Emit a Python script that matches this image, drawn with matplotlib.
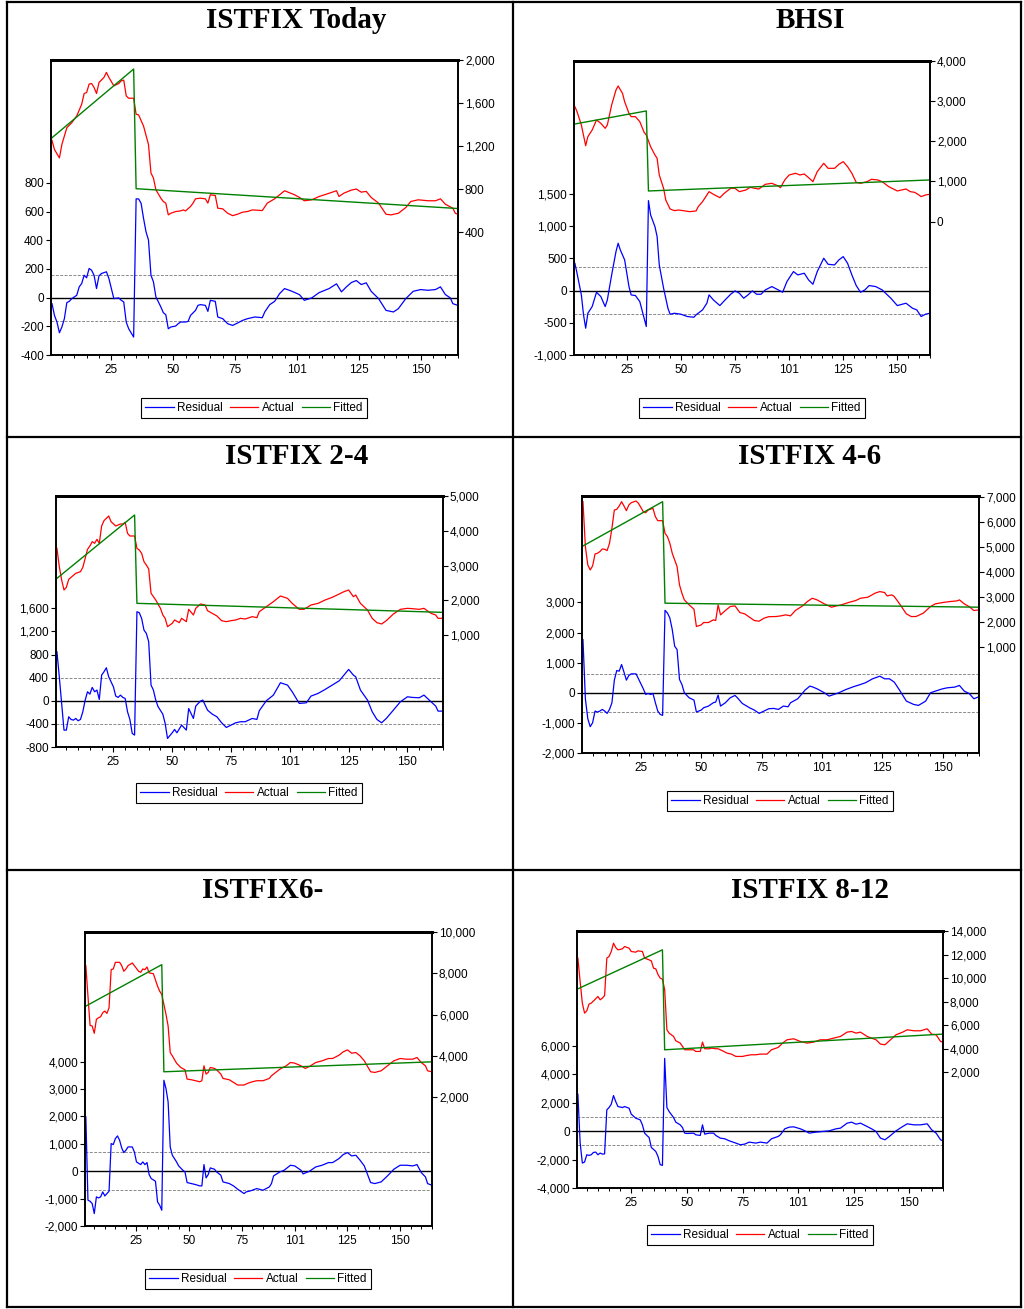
import matplotlib
matplotlib.use("Agg")
import matplotlib.pyplot as plt
from matplotlib.lines import Line2D
from matplotlib.ticker import FuncFormatter, FixedLocator

plt.rcParams["font.family"] = ["Liberation Sans", "DejaVu Sans"]

W, H = 1024, 1309

# ---------------- data (observation number, value) ----------------
# ISTFIX Today
today_act_x = [1, 2, 4, 5, 7, 9, 11, 13, 14, 15, 16, 17, 18, 19, 20, 22, 23, 24, 26, 28, 29, 30, 31, 32, 34, 35, 36, 38, 40, 41, 42, 43, 45, 46, 47, 48, 49, 51, 53, 54, 55, 57, 58, 59, 61, 63, 64, 65, 67, 68, 70, 72, 74, 76, 78, 80, 82, 86, 88, 91, 95, 99, 101, 103, 106, 109, 112, 116, 117, 119, 122, 124, 126, 128, 130, 133, 136, 138, 141, 144, 146, 149, 153, 156, 158, 160, 163, 164, 165]
today_act = [1253, 1169, 1091, 1216, 1371, 1418, 1480, 1589, 1689, 1698, 1776, 1782, 1745, 1689, 1791, 1838, 1885, 1838, 1760, 1782, 1807, 1813, 1667, 1645, 1645, 1496, 1490, 1387, 1216, 951, 904, 795, 717, 686, 671, 562, 577, 593, 599, 608, 599, 640, 671, 711, 717, 711, 671, 749, 742, 624, 618, 577, 555, 568, 587, 593, 608, 602, 671, 711, 786, 749, 724, 693, 702, 733, 755, 786, 733, 764, 792, 802, 773, 780, 724, 671, 568, 562, 577, 630, 686, 702, 693, 693, 711, 661, 624, 577, 568]
today_res_x = [1, 2, 3, 4, 5, 6, 7, 8, 9, 11, 12, 13, 14, 15, 16, 17, 18, 19, 20, 21, 23, 24, 25, 26, 28, 29, 30, 31, 32, 34, 35, 36, 37, 38, 39, 40, 41, 42, 43, 45, 46, 47, 48, 49, 51, 52, 53, 55, 56, 57, 59, 60, 61, 63, 64, 65, 67, 68, 70, 72, 74, 76, 78, 80, 83, 86, 87, 89, 91, 93, 95, 98, 101, 103, 106, 109, 113, 116, 118, 120, 122, 124, 126, 128, 130, 133, 136, 139, 141, 144, 147, 150, 153, 156, 158, 160, 162, 163, 165]
today_res = [-42, -124, -170, -245, -205, -147, -35, -26, -7, 16, 75, 98, 156, 138, 203, 191, 156, 63, 152, 168, 180, 133, 63, -7, -2, -19, -30, -170, -217, -275, 688, 688, 658, 553, 459, 401, 156, 110, 5, -65, -105, -119, -217, -205, -198, -182, -170, -170, -166, -124, -89, -54, -49, -54, -96, -19, -26, -135, -147, -182, -194, -177, -159, -147, -135, -140, -100, -49, -26, 28, 63, 44, 21, -19, -2, 35, 63, 96, 40, 75, 105, 119, 91, 103, 44, -7, -89, -100, -77, -7, 44, 56, 51, 56, 75, 21, -2, -42, -54]
today_fit_x = [1, 34, 35, 165]
today_fit = [1278, 1916, 805, 621]

# BHSI
bhsi_act_x = [1, 2, 4, 6, 7, 9, 11, 13, 15, 16, 18, 20, 21, 23, 24, 26, 27, 29, 31, 33, 34, 36, 38, 39, 40, 42, 43, 45, 47, 49, 51, 54, 57, 58, 60, 63, 65, 68, 70, 73, 75, 77, 80, 82, 84, 86, 89, 92, 95, 96, 98, 100, 103, 105, 107, 109, 111, 113, 116, 118, 121, 123, 125, 127, 129, 131, 133, 136, 138, 141, 143, 146, 150, 152, 154, 156, 158, 160, 161, 163, 165]
bhsi_act = [2863, 2739, 2407, 1892, 2116, 2282, 2531, 2448, 2324, 2407, 2905, 3278, 3378, 3195, 2988, 2697, 2614, 2614, 2490, 2224, 2158, 1867, 1660, 1577, 1162, 830, 539, 315, 274, 290, 274, 249, 266, 373, 498, 747, 681, 598, 705, 830, 830, 747, 788, 855, 830, 813, 930, 955, 888, 847, 1038, 1162, 1204, 1162, 1187, 1096, 996, 1245, 1453, 1328, 1328, 1428, 1494, 1370, 1204, 979, 955, 996, 1054, 1038, 996, 872, 764, 789, 813, 747, 730, 664, 623, 664, 681]
bhsi_res_x = [1, 2, 4, 5, 6, 7, 9, 11, 13, 15, 16, 18, 20, 21, 22, 24, 26, 27, 29, 31, 33, 34, 35, 36, 38, 39, 40, 42, 44, 45, 47, 50, 53, 56, 57, 60, 62, 63, 65, 68, 70, 73, 75, 77, 79, 81, 83, 85, 87, 89, 92, 95, 97, 99, 102, 104, 107, 109, 111, 113, 116, 118, 121, 123, 125, 127, 129, 131, 133, 135, 137, 140, 143, 147, 150, 154, 157, 159, 161, 163, 165]
bhsi_res = [424, 269, -67, -377, -584, -352, -248, -26, -93, -248, -145, 243, 605, 734, 631, 476, 62, -67, -78, -171, -429, -558, 1396, 1174, 993, 838, 398, 36, -274, -367, -352, -367, -403, -414, -377, -300, -196, -67, -145, -233, -160, -57, -5, -41, -119, -67, -5, -57, -57, 10, 62, 10, -26, 140, 295, 243, 269, 165, 98, 295, 502, 408, 398, 476, 527, 424, 243, 78, -26, 10, 78, 62, 10, -119, -233, -196, -274, -300, -403, -367, -352]
bhsi_fit_x = [1, 34, 35, 165]
bhsi_fit = [2432, 2756, 764, 1038]

# ISTFIX 2-4
f24_act_x = [1, 2, 3, 4, 5, 6, 7, 9, 11, 12, 13, 14, 15, 16, 17, 18, 19, 20, 21, 23, 24, 26, 28, 29, 30, 31, 32, 33, 34, 35, 36, 37, 38, 39, 40, 41, 43, 45, 46, 47, 48, 50, 51, 53, 54, 56, 57, 59, 60, 62, 64, 65, 67, 69, 71, 73, 75, 77, 79, 81, 84, 86, 87, 90, 93, 96, 99, 101, 104, 106, 109, 112, 115, 118, 121, 123, 125, 127, 128, 130, 133, 135, 137, 139, 141, 144, 147, 150, 152, 155, 157, 160, 162, 163, 165]
f24_act = [3494, 2966, 2583, 2295, 2372, 2602, 2659, 2775, 2822, 2947, 3206, 3465, 3561, 3686, 3638, 3753, 3638, 4137, 4290, 4424, 4261, 4137, 4194, 4194, 4242, 3926, 3849, 3849, 3849, 3494, 3446, 3350, 3110, 3014, 2900, 2200, 2007, 1767, 1576, 1480, 1240, 1336, 1432, 1355, 1480, 1384, 1739, 1576, 1767, 1892, 1863, 1700, 1624, 1547, 1412, 1384, 1412, 1432, 1480, 1460, 1528, 1499, 1671, 1815, 1959, 2122, 2055, 1911, 1739, 1739, 1863, 1911, 2007, 2084, 2180, 2247, 2295, 2103, 2151, 1911, 1719, 1480, 1355, 1317, 1412, 1604, 1739, 1767, 1758, 1739, 1767, 1624, 1576, 1480, 1480]
f24_res_x = [1, 2, 3, 4, 5, 6, 7, 8, 9, 10, 11, 12, 13, 14, 15, 16, 17, 18, 19, 20, 21, 22, 23, 25, 26, 27, 28, 29, 30, 31, 32, 33, 34, 35, 36, 37, 38, 39, 40, 41, 42, 43, 44, 46, 47, 48, 50, 51, 52, 54, 56, 57, 59, 60, 62, 63, 65, 67, 69, 71, 73, 75, 77, 79, 81, 84, 86, 87, 90, 93, 96, 99, 101, 104, 107, 109, 112, 115, 118, 121, 123, 125, 127, 128, 130, 133, 135, 137, 139, 141, 144, 147, 150, 152, 155, 157, 160, 162, 163, 165]
f24_res = [848, 415, -46, -508, -508, -277, -323, -335, -306, -346, -323, -190, 12, 156, 115, 231, 156, 185, 23, 444, 502, 571, 415, 242, 81, 58, 98, 58, 40, -190, -323, -565, -594, 1541, 1523, 1425, 1223, 1166, 1021, 271, 185, 12, -104, -231, -392, -652, -554, -496, -554, -421, -508, -133, -306, -92, -6, 12, -162, -231, -277, -381, -462, -421, -381, -363, -363, -306, -323, -173, 0, 98, 312, 271, 156, -46, -35, 81, 127, 196, 271, 346, 444, 542, 444, 415, 185, 12, -190, -323, -381, -306, -162, -17, 69, 58, 52, 98, -17, -92, -179, -179]
f24_fit_x = [1, 34, 35, 165]
f24_fit = [2631, 4453, 1911, 1652]

# ISTFIX 4-6
f46_act_x = [1, 2, 3, 4, 5, 6, 7, 8, 9, 10, 11, 12, 13, 14, 15, 16, 17, 18, 19, 20, 21, 23, 24, 26, 27, 28, 30, 31, 32, 34, 35, 36, 37, 38, 40, 41, 42, 43, 45, 47, 48, 50, 51, 53, 55, 56, 57, 58, 60, 62, 64, 66, 68, 70, 72, 74, 76, 78, 81, 83, 85, 87, 89, 92, 94, 96, 98, 101, 104, 105, 108, 111, 114, 116, 119, 122, 124, 126, 127, 129, 130, 132, 135, 137, 139, 142, 145, 147, 150, 153, 156, 157, 159, 161, 163, 165]
f46_act = [6825, 5026, 4292, 4093, 4253, 4732, 4759, 4826, 4932, 4919, 4866, 5159, 5759, 6492, 6519, 6652, 6825, 6652, 6465, 6692, 6785, 6852, 6759, 6425, 6385, 6492, 6559, 6225, 6065, 6065, 5559, 5426, 5159, 4759, 4226, 3493, 3160, 2893, 2693, 2520, 1826, 1893, 1986, 1986, 2093, 2066, 2693, 2293, 2466, 2626, 2653, 2386, 2333, 2200, 2066, 2040, 2160, 2220, 2226, 2253, 2293, 2253, 2466, 2653, 2826, 2959, 2893, 2733, 2600, 2626, 2693, 2786, 2866, 2959, 2999, 3159, 3226, 3186, 3053, 3093, 3026, 2760, 2333, 2226, 2226, 2360, 2626, 2733, 2786, 2826, 2853, 2893, 2733, 2626, 2466, 2493]
f46_res_x = [1, 2, 3, 4, 5, 6, 7, 8, 9, 10, 11, 12, 13, 14, 15, 16, 17, 18, 19, 20, 21, 23, 24, 26, 27, 28, 29, 30, 31, 32, 33, 34, 35, 36, 37, 38, 39, 40, 41, 42, 43, 45, 47, 48, 50, 51, 53, 55, 56, 57, 58, 60, 62, 64, 65, 67, 70, 72, 74, 76, 78, 80, 82, 84, 86, 87, 90, 93, 95, 96, 98, 101, 103, 105, 107, 110, 113, 116, 118, 121, 124, 126, 128, 130, 132, 135, 138, 140, 143, 145, 147, 150, 152, 155, 157, 159, 161, 163, 165]
f46_res = [1766, -200, -861, -1126, -994, -607, -640, -607, -552, -607, -684, -552, -331, 420, 740, 718, 938, 684, 420, 574, 629, 629, 464, 132, -55, -22, -55, -22, -331, -607, -718, -750, 2738, 2650, 2484, 2098, 1546, 1435, 442, 276, 0, -166, -243, -640, -574, -497, -442, -331, -309, -77, -442, -331, -166, -88, -166, -353, -497, -574, -684, -607, -530, -519, -552, -442, -464, -331, -199, 88, 221, 199, 132, 0, -110, -55, 0, 110, 199, 276, 331, 464, 552, 464, 464, 353, 110, -276, -386, -420, -276, 0, 55, 132, 166, 188, 243, 55, -22, -199, -132]
f46_fit_x = [1, 34, 35, 165]
f46_fit = [5052, 6825, 2760, 2600]

# ISTFIX6-
f6_act_x = [1, 2, 3, 4, 5, 6, 7, 8, 9, 10, 11, 12, 13, 14, 15, 17, 18, 19, 20, 21, 23, 24, 26, 27, 28, 29, 30, 31, 33, 35, 36, 37, 38, 39, 40, 41, 42, 44, 46, 48, 49, 51, 53, 55, 56, 57, 58, 59, 60, 62, 63, 65, 66, 69, 71, 73, 76, 78, 80, 82, 85, 88, 89, 91, 93, 96, 98, 100, 103, 105, 107, 110, 113, 116, 118, 121, 123, 125, 127, 129, 131, 133, 136, 138, 141, 144, 147, 150, 153, 156, 158, 160, 162, 163, 165]
f6_act = [8372, 6900, 5483, 5451, 5098, 5772, 5852, 5900, 6093, 6173, 6061, 6334, 8179, 8211, 8532, 8532, 8372, 8099, 8211, 8372, 8500, 8372, 8099, 8051, 8211, 8179, 8308, 8018, 7986, 7377, 7136, 6976, 6494, 6013, 5451, 4167, 4006, 3653, 3445, 3332, 2883, 2851, 2803, 2754, 2803, 3525, 3124, 3204, 3445, 3397, 3332, 3124, 2915, 2851, 2722, 2594, 2594, 2690, 2754, 2803, 2803, 2915, 3043, 3204, 3364, 3525, 3685, 3653, 3525, 3397, 3493, 3685, 3766, 3878, 3878, 4038, 4199, 4295, 4135, 4167, 4006, 3766, 3236, 3204, 3284, 3525, 3766, 3878, 3846, 3846, 3926, 3685, 3525, 3284, 3236]
f6_res_x = [1, 2, 3, 4, 5, 6, 7, 8, 9, 10, 11, 12, 13, 14, 15, 16, 17, 18, 19, 20, 21, 23, 24, 25, 27, 28, 29, 30, 31, 32, 34, 35, 36, 37, 38, 39, 40, 41, 42, 44, 45, 47, 48, 49, 51, 53, 55, 56, 57, 58, 59, 60, 62, 63, 65, 66, 69, 71, 73, 76, 77, 79, 82, 85, 88, 89, 90, 93, 95, 98, 100, 103, 104, 107, 110, 113, 116, 118, 121, 123, 125, 127, 129, 131, 133, 136, 138, 141, 144, 147, 150, 153, 156, 158, 160, 162, 163, 165]
f6_res = [1984, -1059, -1095, -1180, -1546, -937, -974, -937, -755, -901, -815, -730, 1010, 974, 1193, 1290, 1132, 852, 681, 767, 888, 888, 706, 341, 243, 341, 243, 316, -122, -268, -365, -1120, -1241, -1424, 3322, 3018, 2531, 888, 584, 341, 195, 36, -24, -414, -450, -487, -535, -535, 243, -243, -122, 122, 73, -24, -146, -389, -450, -535, -657, -815, -755, -718, -633, -694, -572, -450, -170, -24, 36, 219, 195, 36, -97, 0, 158, 219, 316, 316, 462, 608, 681, 560, 584, 402, 195, -414, -450, -389, -170, 73, 219, 219, 195, 243, -49, -207, -450, -511]
f6_fit_x = [1, 37, 38, 165]
f6_fit = [6414, 8420, 3236, 3717]

# ISTFIX 8-12
f812_act_x = [1, 2, 3, 4, 5, 6, 7, 9, 10, 11, 12, 13, 14, 15, 16, 17, 18, 19, 21, 22, 24, 25, 27, 28, 30, 31, 33, 34, 35, 36, 37, 38, 39, 40, 41, 42, 44, 45, 47, 48, 49, 51, 53, 54, 56, 57, 58, 60, 61, 63, 64, 66, 68, 70, 72, 75, 77, 79, 81, 83, 86, 88, 91, 93, 95, 98, 101, 104, 107, 110, 113, 116, 119, 122, 124, 126, 128, 131, 133, 135, 137, 139, 141, 144, 147, 149, 152, 155, 158, 160, 162, 164, 165]
f812_act = [11689, 9705, 7864, 7014, 7214, 7780, 7864, 8233, 8431, 8148, 8289, 8516, 11689, 11830, 12255, 12964, 12596, 12397, 12482, 12680, 12539, 12255, 12199, 12312, 12255, 11689, 11547, 11462, 10839, 10782, 10300, 9989, 9900, 9020, 5598, 5314, 5031, 4663, 4465, 4181, 3898, 3898, 3898, 3756, 3756, 4550, 3983, 3983, 4040, 3983, 3983, 3813, 3615, 3530, 3331, 3331, 3416, 3473, 3473, 3530, 3530, 3898, 4096, 4465, 4748, 4833, 4606, 4465, 4550, 4748, 4748, 4890, 5031, 5400, 5456, 5314, 5400, 5031, 4890, 4748, 4380, 4323, 4663, 5173, 5400, 5598, 5513, 5513, 5683, 5230, 5173, 4606, 4550]
f812_res_x = [1, 2, 3, 4, 5, 6, 7, 8, 9, 10, 11, 12, 13, 14, 15, 16, 17, 18, 19, 21, 22, 24, 25, 27, 29, 30, 31, 32, 33, 34, 36, 37, 38, 39, 40, 41, 42, 44, 45, 47, 48, 49, 50, 53, 54, 56, 57, 58, 60, 62, 63, 65, 67, 69, 72, 74, 76, 78, 81, 83, 86, 88, 91, 92, 94, 96, 98, 101, 103, 105, 108, 111, 114, 117, 119, 122, 124, 126, 128, 131, 133, 135, 137, 139, 141, 144, 147, 149, 152, 155, 158, 160, 162, 164, 165]
f812_res = [2596, -800, -2245, -2175, -1661, -1707, -1661, -1497, -1474, -1661, -1544, -1614, -1600, 1497, 1661, 1895, 2503, 2082, 1731, 1661, 1731, 1614, 1193, 912, 795, 444, -140, -304, -444, -1146, -1427, -1778, -2362, -2409, 5122, 1661, 1380, 959, 632, 444, 257, -140, -164, -140, -257, -304, 444, -211, -140, -140, -304, -491, -538, -678, -842, -959, -912, -772, -842, -772, -842, -538, -374, -257, 164, 281, 304, 164, 23, -140, -70, -23, 23, 164, 211, 561, 632, 491, 561, 327, 164, -23, -491, -608, -374, 23, 327, 515, 444, 444, 515, 94, -140, -608, -678]
f812_fit_x = [1, 39, 40, 165]
f812_fit = [9083, 12397, 3898, 5230]

# x axis labels (EViews prints 101 at the 100th slot)
xtick_pos = [25, 50, 75, 100, 125, 150]
xtick_lab = ["25", "50", "75", "101", "125", "150"]

# ---------------- layout (pixels of the 1024x1309 page) ----------------
panels = [
    dict(title="ISTFIX Today", box=(51, 60, 458, 355), tpos=(296, 20),
         lim_l=(-400, 1656), ticks_l=range(-400, 801, 200),
         lim_r=(-739, 2000), ticks_r=range(400, 2001, 400), se=160, leg=(254, 408),
         res=(today_res_x, today_res), act=(today_act_x, today_act), fit=(today_fit_x, today_fit)),
    dict(title="BHSI", box=(574, 61, 930, 355), tpos=(810, 20),
         lim_l=(-1000, 3563), ticks_l=range(-1000, 1501, 500),
         lim_r=(-3320, 4000), ticks_r=range(0, 4001, 1000), se=362, leg=(752, 408),
         res=(bhsi_res_x, bhsi_res), act=(bhsi_act_x, bhsi_act), fit=(bhsi_fit_x, bhsi_fit)),
    dict(title="ISTFIX 2-4", box=(56, 496, 443, 747), tpos=(297, 457),
         lim_l=(-800, 3543), ticks_l=range(-800, 1601, 400),
         lim_r=(-2223, 5000), ticks_r=range(1000, 5001, 1000), se=400, leg=(249, 793),
         res=(f24_res_x, f24_res), act=(f24_act_x, f24_act), fit=(f24_fit_x, f24_fit)),
    dict(title="ISTFIX 4-6", box=(582, 496, 979, 753), tpos=(810, 457),
         lim_l=(-2000, 6536), ticks_l=range(-2000, 3001, 1000),
         lim_r=(-3239, 7053), ticks_r=range(1000, 7001, 1000), se=640, leg=(780, 801),
         res=(f46_res_x, f46_res), act=(f46_act_x, f46_act), fit=(f46_fit_x, f46_fit)),
    dict(title="ISTFIX6-", box=(85, 932, 432, 1226), tpos=(263, 890),
         lim_l=(-2000, 8738), ticks_l=range(-2000, 4001, 1000),
         lim_r=(-4227, 10000), ticks_r=range(2000, 10001, 2000), se=690, leg=(258, 1279),
         res=(f6_res_x, f6_res), act=(f6_act_x, f6_act), fit=(f6_fit_x, f6_fit)),
    dict(title="ISTFIX 8-12", box=(577, 931, 943, 1188), tpos=(810, 890),
         lim_l=(-4000, 14081), ticks_l=range(-4000, 6001, 2000),
         lim_r=(-7859, 14000), ticks_r=range(2000, 14001, 2000), se=980, leg=(760, 1235),
         res=(f812_res_x, f812_res), act=(f812_act_x, f812_act), fit=(f812_fit_x, f812_fit)),
]

RED, BLUE, GREEN = "#ff0000", "#0000ff", "#008000"
comma = FuncFormatter(lambda v, pos: f"{v:,.0f}")


def fx(px):
    return px / W


def fy(py):
    return 1 - py / H


def draw_panel(fig, p):
    l, t, r, b = p["box"]
    ax = fig.add_axes([fx(l), fy(b), (r - l) / W, (b - t) / H])
    ax2 = ax.twinx()

    # residual + its +/- 1 s.e. band on the left scale
    ax.axhline(0, color="black", lw=1.0, zorder=1)
    for s in (p["se"], -p["se"]):
        ax.axhline(s, color="#8a8a8a", lw=0.7, ls=(0, (3, 1.5)), zorder=1)
    ax.plot(*p["res"], color=BLUE, lw=0.9, zorder=2)

    # actual and fitted on the right scale
    ax2.plot(*p["act"], color=RED, lw=0.9)
    ax2.plot(*p["fit"], color=GREEN, lw=1.0)

    ax.set_xlim(0.6, 165.1)
    ax.set_ylim(*p["lim_l"])
    ax2.set_ylim(*p["lim_r"])
    ax.set_yticks(list(p["ticks_l"]))
    ax2.set_yticks(list(p["ticks_r"]))
    ax.yaxis.set_major_formatter(comma)
    ax2.yaxis.set_major_formatter(comma)

    ax.set_xticks(xtick_pos)
    ax.set_xticklabels(xtick_lab)
    ax.xaxis.set_minor_locator(FixedLocator([m for m in range(5, 166, 5) if m % 25]))

    for a in (ax, ax2):
        a.tick_params(axis="both", which="major", direction="out", length=3.5,
                      width=0.8, labelsize=8.5, pad=1.5, colors="black")
        a.tick_params(axis="x", which="minor", direction="out", length=2, width=0.7)
        for side, sp in a.spines.items():
            sp.set_linewidth(2.0 if side == "top" else 1.2)
    ax.tick_params(axis="x", pad=3)
    ax2.tick_params(axis="y", pad=1.5)

    # title of the table cell
    fig.text(fx(p["tpos"][0]), fy(p["tpos"][1]), p["title"], ha="center", va="center",
             fontsize=21, fontweight="bold", family=["Liberation Serif", "DejaVu Serif"])

    handles = [Line2D([], [], color=BLUE, lw=0.9),
               Line2D([], [], color=RED, lw=0.9),
               Line2D([], [], color=GREEN, lw=0.9)]
    leg = fig.legend(handles, ["Residual", "Actual", "Fitted"], loc="center",
                     bbox_to_anchor=(fx(p["leg"][0]), fy(p["leg"][1])), ncol=3,
                     fontsize=8.5, handlelength=2.4, handletextpad=0.3,
                     columnspacing=0.6, borderpad=0.35, fancybox=False, framealpha=1)
    leg.get_frame().set_edgecolor("black")
    leg.get_frame().set_linewidth(0.8)


def main():
    fig = plt.figure(figsize=(W / 100, H / 100), dpi=100)

    # table grid around the six graphs
    grid = [((7, 2), (7, 1307)), ((1021, 2), (1021, 1307)), ((7, 2), (1021, 2)),
            ((7, 1307), (1021, 1307)), ((513, 2), (513, 1307)),
            ((7, 437), (1021, 437)), ((7, 870), (1021, 870))]
    for (x0, y0), (x1, y1) in grid:
        fig.add_artist(Line2D([fx(x0), fx(x1)], [fy(y0), fy(y1)], color="black", lw=1.6))

    for p in panels:
        draw_panel(fig, p)

    fig.savefig("out.png", dpi=100)


if __name__ == "__main__":
    main()
